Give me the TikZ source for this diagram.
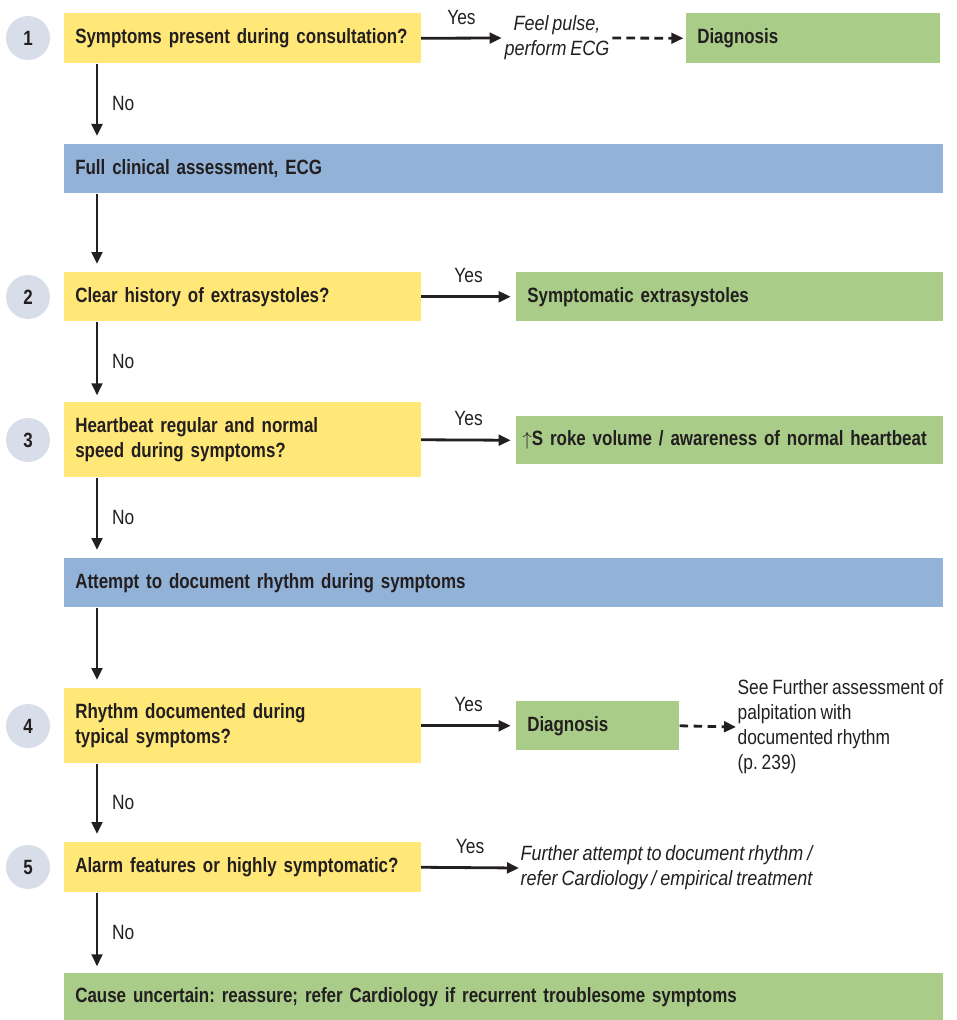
\documentclass[tikz,border=0pt]{standalone}
\usepackage{fontspec}
\setmainfont{Liberation Sans}[WordSpace=0.8,
  UprightFeatures={FakeStretch=0.84},
  BoldFeatures={FakeStretch=0.82},
  ItalicFeatures={FakeStretch=0.87}]
\frenchspacing
\usepackage{tikz}
\usetikzlibrary{arrows.meta}
\usetikzlibrary{positioning}

\definecolor{qyellow}{HTML}{FFE878}
\definecolor{ablue}{HTML}{93B2D7}
\definecolor{rgreen}{HTML}{A9CD89}
\definecolor{cgrey}{HTML}{D7DEEA}
\definecolor{ink}{HTML}{231F20}

\begin{document}
\begin{tikzpicture}[x=0.75pt,y=-0.75pt,font=\fontsize{15.5}{18.75}\selectfont,text=ink]
	 \tikzstyle{box}=[rectangle,anchor=north west,inner xsep=8.25pt,inner ysep=0pt,align=left,font=\fontsize{15.5}{18.75}\selectfont\bfseries]
	 \tikzstyle{quest}=[box,fill=qyellow,text width=251pt,minimum height=#1]
	 \tikzstyle{act}=[box,fill=ablue,text width=642.75pt,minimum height=36.75pt]
	 \tikzstyle{res}=[box,fill=rgreen,minimum height=#1]
	 \tikzstyle{stepdot}=[circle,fill=cgrey,minimum size=33pt,inner sep=0pt,font=\fontsize{15.5}{16}\selectfont\bfseries]
	 \tikzstyle{arr}=[draw,line width=2.1pt,ink,-{Triangle[length=9pt,width=8pt]}]
	 \tikzstyle{dasharr}=[arr,dash pattern=on 6.5pt off 4pt]
	 \tikzstyle{lab}=[font=\fontsize{15.5}{18.75}\selectfont]
	 \useasboundingbox (0,0) rectangle (956,1020);

	 % questions and steps
	 \node[stepdot] (c1) at (28,38) {1};
	 \node[stepdot] (c2) at (28,297) {2};
	 \node[stepdot] (c3) at (28,440) {3};
	 \node[stepdot] (c4) at (28,726) {4};
	 \node[stepdot] (c5) at (28,867) {5};
	 \node[quest=37.5pt] (q1) at (64,13) {Symptoms present during consultation?};
	 \node[quest=36.75pt] (q2) at (64,272) {Clear history of extrasystoles?};
	 \node[quest=56.25pt] (q3) at (64,402) {Heartbeat regular and normal\\speed during symptoms?};
	 \node[quest=56.25pt] (q4) at (64,688) {Rhythm documented during\\typical symptoms?};
	 \node[quest=37.5pt] (q5) at (64,842) {Alarm features or highly symptomatic?};

	 % actions
	 \node[act] (a1) at (64,144) {Full clinical assessment, ECG};
	 \node[act] (a2) at (64,558) {Attempt to document rhythm during symptoms};

	 % results
	 \node[res=37.5pt,text width=173.5pt] (d1) at (686,13) {Diagnosis};
	 \node[res=36.75pt,text width=303.75pt] (r2) at (516,272) {Symptomatic extrasystoles};
	 \node[res=36pt,inner xsep=4.5pt,text width=311.25pt] (r3) at (516,416) {$\uparrow$S roke volume / awareness of normal heartbeat};
	 \node[res=36.75pt,text width=105.75pt] (d4) at (516,701) {Diagnosis};
	 \node[res=35.25pt,text width=642.75pt] (end) at (64,973) {Cause uncertain: reassure; refer Cardiology if recurrent troublesome symptoms};

	 % notes
	 \node[lab,align=center,inner sep=2pt,font=\fontsize{15.5}{18.75}\selectfont\itshape] (feel) at (557,38) {Feel pulse,\\perform ECG};
	 \node[lab,align=left,anchor=west,inner sep=1pt] (see) at (736,727) {See Further assessment of\\palpitation with\\documented rhythm\\(p. 239)};
	 \node[lab,align=left,anchor=west,inner sep=1pt,font=\fontsize{15.5}{18.75}\selectfont\itshape] (further) at (519,868) {Further attempt to document rhythm /\\refer Cardiology / empirical treatment};

	 % yes
	 \draw[arr] (q1.east) -- node[lab,above=6pt] {Yes} (feel.west);
	 \draw[dasharr] (feel.east) -- ([xshift=-2pt]d1.west);
	 \draw[arr,shorten >=4pt] (q2.east) -- node[lab,above=6pt] {Yes} (r2.west);
	 \draw[arr,shorten >=4pt] (q3.east) -- node[lab,above=6pt] {Yes} (r3.west);
	 \draw[arr,shorten >=4pt] (q4.east) -- node[lab,above=6pt] {Yes} (d4.west);
	 \draw[dasharr] (d4.east) -- (see.west);
	 \draw[arr] (q5.east) -- node[lab,above=6pt] {Yes} (further.west);

	 % no
	 \draw[arr,shorten >=6pt] ([xshift=24.75pt]q1.south west) -- node[lab,right=7pt] {No} ([xshift=24.75pt]a1.north west);
	 \draw[arr,shorten >=6pt] ([xshift=24.75pt]a1.south west) -- ([xshift=24.75pt]q2.north west);
	 \draw[arr,shorten >=5pt] ([xshift=24.75pt]q2.south west) -- node[lab,right=7pt] {No} ([xshift=24.75pt]q3.north west);
	 \draw[arr,shorten >=6pt] ([xshift=24.75pt]q3.south west) -- node[lab,right=7pt] {No} ([xshift=24.75pt]a2.north west);
	 \draw[arr,shorten >=6pt] ([xshift=24.75pt]a2.south west) -- ([xshift=24.75pt]q4.north west);
	 \draw[arr,shorten >=6pt] ([xshift=24.75pt]q4.south west) -- node[lab,right=7pt] {No} ([xshift=24.75pt]q5.north west);
	 \draw[arr,shorten >=5pt] ([xshift=24.75pt]q5.south west) -- node[lab,right=7pt] {No} ([xshift=24.75pt]end.north west);
\end{tikzpicture}
\end{document}
